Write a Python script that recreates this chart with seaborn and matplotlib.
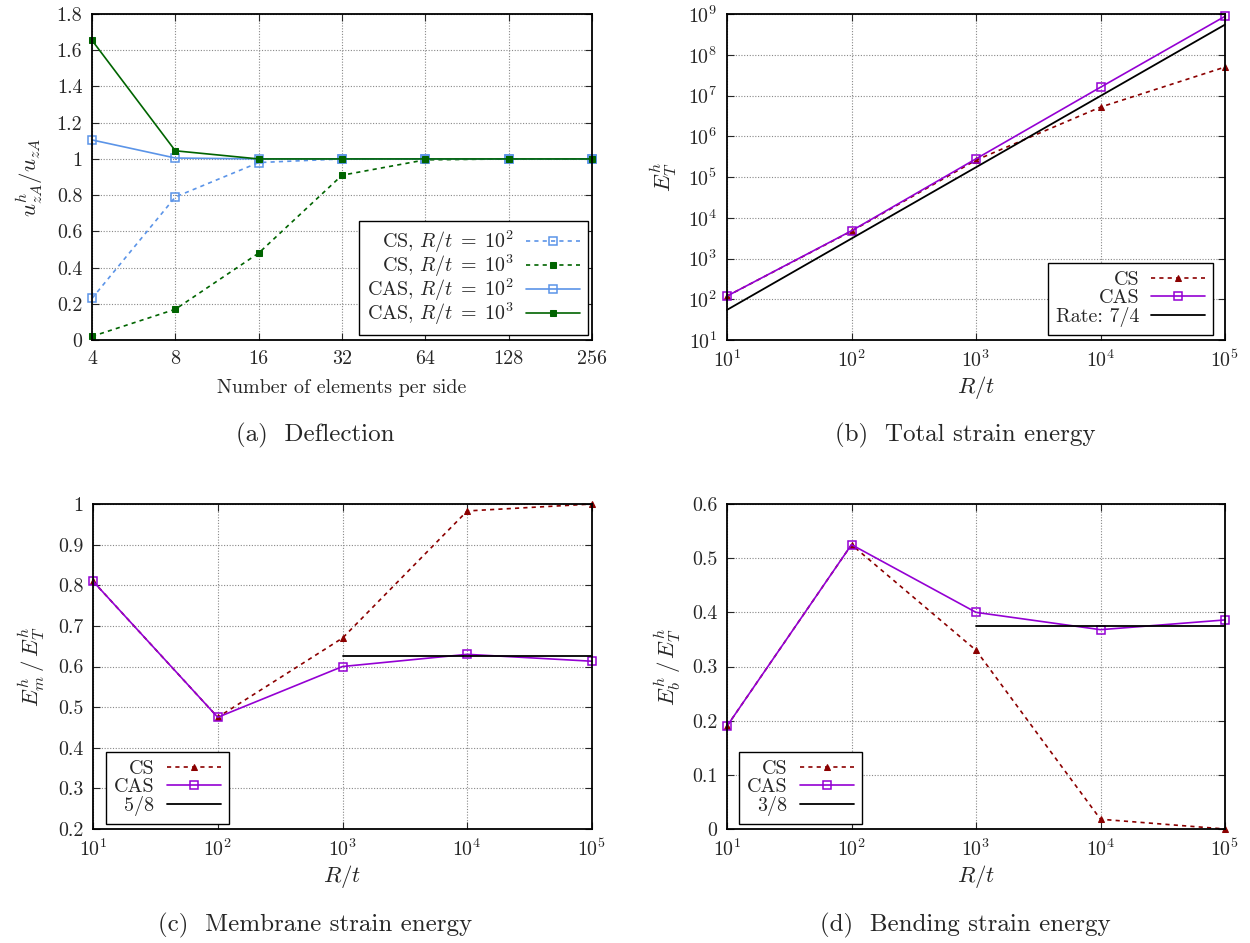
import numpy as np
import pandas as pd
import matplotlib
matplotlib.use("Agg")
import matplotlib.pyplot as plt
import matplotlib.ticker as mticker
import seaborn as sns

# --- data ---
n_elem = [4, 8, 16, 32, 64, 128, 256]
cs_1e2 = [0.23, 0.79, 0.98, 1.0, 1.0, 1.0, 1.0]
cs_1e3 = [0.02, 0.17, 0.48, 0.91, 0.995, 1.0, 1.0]
cas_1e2 = [1.105, 1.005, 1.0, 1.0, 1.0, 1.0, 1.0]
cas_1e3 = [1.655, 1.045, 1.0, 1.0, 1.0, 1.0, 1.0]

rt = [1e1, 1e2, 1e3, 1e4, 1e5]
total_cs = [120, 4700, 2.6e5, 5.2e6, 5.0e7]
total_cas = [120, 4800, 2.8e5, 1.6e7, 8.8e8]
rate_x = [1e1, 1e5]
rate_y = [55, 5.5e8]

memb_cs = [0.81, 0.475, 0.67, 0.983, 1.0]
memb_cas = [0.81, 0.475, 0.60, 0.63, 0.613]
bend_cs = [0.19, 0.525, 0.33, 0.018, 0.0]
bend_cas = [0.19, 0.525, 0.40, 0.368, 0.386]
ref_x = [1e3, 1e5]
memb_ref = [0.625, 0.625]
bend_ref = [0.375, 0.375]

LBLUE = "#5b94e8"
DGREEN = "#006400"
PURPLE = "#9400d3"
DRED = "#8b0000"

sns.set_style("ticks")
plt.rcParams["font.family"] = ["cmr10", "DejaVu Serif"]
plt.rcParams["mathtext.fontset"] = "cm"
plt.rcParams["axes.formatter.use_mathtext"] = True
plt.rcParams["axes.unicode_minus"] = False

FS = 14.4
DOT = (0, (2.5, 2.5))

fig = plt.figure(figsize=(12.5, 9.43), dpi=100)
ax_a = fig.add_axes([0.0736, 0.6394, 0.4000, 0.3457])
ax_b = fig.add_axes([0.5816, 0.6394, 0.3984, 0.3457])
ax_c = fig.add_axes([0.0744, 0.1209, 0.3992, 0.3446])
ax_d = fig.add_axes([0.5816, 0.1209, 0.3984, 0.3446])


def style_axes(ax):
    ax.grid(True, which="major", linestyle=(0, (1, 1.5)), color="#888888", linewidth=0.8)
    ax.tick_params(which="major", direction="in", top=True, right=True,
                   labelsize=FS, length=5, width=0.8)
    ax.tick_params(axis="x", pad=7)
    ax.tick_params(axis="y", pad=7)
    ax.tick_params(which="minor", length=0)
    for s in ax.spines.values():
        s.set_linewidth(1.3)
        s.set_color("black")


def make_legend(ax, loc, anchor, spacing=0.0):
    leg = ax.legend(loc=loc, bbox_to_anchor=anchor, markerfirst=False,
                    fancybox=False, framealpha=1, edgecolor="black",
                    fontsize=FS, handlelength=2.7, labelspacing=spacing,
                    borderpad=0.4, handletextpad=0.6, borderaxespad=0.0)
    leg.get_frame().set_linewidth(1.0)
    return leg


def fmt_plain(v, p):
    return f"{v:.1f}".rstrip("0").rstrip(".")


open_sq = dict(marker="s", markersize=5.8, markerfacecolor="none", markeredgewidth=1.1)

# (a) deflection
sns.lineplot(x=n_elem, y=cs_1e2, ax=ax_a, color=LBLUE, linestyle=DOT,
             markeredgecolor=LBLUE, lw=1.2, label=r"CS, $R/t\;=\;10^2$", **open_sq)
sns.lineplot(x=n_elem, y=cs_1e3, ax=ax_a, color=DGREEN, linestyle=DOT,
             marker="s", markersize=4.2, markerfacecolor=DGREEN,
             markeredgecolor=DGREEN, lw=1.2, label=r"CS, $R/t\;=\;10^3$")
sns.lineplot(x=n_elem, y=cas_1e2, ax=ax_a, color=LBLUE, linestyle="-",
             markeredgecolor=LBLUE, lw=1.2, label=r"CAS, $R/t\;=\;10^2$", **open_sq)
sns.lineplot(x=n_elem, y=cas_1e3, ax=ax_a, color=DGREEN, linestyle="-",
             marker="s", markersize=4.2, markerfacecolor=DGREEN,
             markeredgecolor=DGREEN, lw=1.2, label=r"CAS, $R/t\;=\;10^3$")
ax_a.set_xscale("log", base=2)
ax_a.set_xlim(4, 256)
ax_a.set_xticks(n_elem)
ax_a.xaxis.set_major_formatter(mticker.FixedFormatter([str(n) for n in n_elem]))
ax_a.set_ylim(0, 1.8)
ax_a.set_yticks(np.arange(0, 1.81, 0.2))
ax_a.yaxis.set_major_formatter(mticker.FuncFormatter(fmt_plain))
ax_a.set_xlabel("Number of elements per side", fontsize=FS, labelpad=8)
ax_a.set_ylabel(r"$u^h_{zA}/u_{zA}$", fontsize=FS + 2, labelpad=8)
style_axes(ax_a)
make_legend(ax_a, "lower right", (0.992, 0.015), spacing=-0.12)

# (b) total strain energy
sns.lineplot(x=rt, y=total_cs, ax=ax_b, color=DRED, linestyle=DOT,
             marker="^", markersize=5, markerfacecolor=DRED,
             markeredgecolor=DRED, lw=1.2, label="CS")
sns.lineplot(x=rt, y=total_cas, ax=ax_b, color=PURPLE, linestyle="-",
             markeredgecolor=PURPLE, lw=1.2, label="CAS", **open_sq)
sns.lineplot(x=rate_x, y=rate_y, ax=ax_b, color="black", lw=1.3,
             label="Rate: 7/4")
ax_b.set_xscale("log")
ax_b.set_yscale("log")
ax_b.set_xlim(1e1, 1e5)
ax_b.set_ylim(1e1, 1e9)
ax_b.set_yticks([10.0 ** k for k in range(1, 10)])
ax_b.set_xticks(rt)
ax_b.set_xlabel(r"$R/t$", fontsize=FS + 2, labelpad=2)
ax_b.set_ylabel(r"$E^h_T$", fontsize=FS + 2, labelpad=6)
style_axes(ax_b)
make_legend(ax_b, "lower right", (0.976, 0.015))

# (c) membrane strain energy
sns.lineplot(x=rt, y=memb_cs, ax=ax_c, color=DRED, linestyle=DOT,
             marker="^", markersize=5, markerfacecolor=DRED,
             markeredgecolor=DRED, lw=1.2, label="CS")
sns.lineplot(x=rt, y=memb_cas, ax=ax_c, color=PURPLE, linestyle="-",
             markeredgecolor=PURPLE, lw=1.2, label="CAS", **open_sq)
sns.lineplot(x=ref_x, y=memb_ref, ax=ax_c, color="black", lw=1.3, label="5/8")
ax_c.set_xscale("log")
ax_c.set_xlim(1e1, 1e5)
ax_c.set_xticks(rt)
ax_c.set_ylim(0.2, 1.0)
ax_c.set_yticks(np.arange(0.2, 1.01, 0.1))
ax_c.yaxis.set_major_formatter(mticker.FuncFormatter(fmt_plain))
ax_c.set_xlabel(r"$R/t$", fontsize=FS + 2, labelpad=2)
ax_c.set_ylabel(r"$E^h_m\,/\,E^h_T$", fontsize=FS + 2, labelpad=8)
style_axes(ax_c)
make_legend(ax_c, "lower left", (0.026, 0.015))

# (d) bending strain energy
sns.lineplot(x=rt, y=bend_cs, ax=ax_d, color=DRED, linestyle=DOT,
             marker="^", markersize=5, markerfacecolor=DRED,
             markeredgecolor=DRED, lw=1.2, label="CS")
sns.lineplot(x=rt, y=bend_cas, ax=ax_d, color=PURPLE, linestyle="-",
             markeredgecolor=PURPLE, lw=1.2, label="CAS", **open_sq)
sns.lineplot(x=ref_x, y=bend_ref, ax=ax_d, color="black", lw=1.3, label="3/8")
ax_d.set_xscale("log")
ax_d.set_xlim(1e1, 1e5)
ax_d.set_xticks(rt)
ax_d.set_ylim(0, 0.6)
ax_d.set_yticks(np.arange(0, 0.61, 0.1))
ax_d.yaxis.set_major_formatter(mticker.FuncFormatter(fmt_plain))
ax_d.set_xlabel(r"$R/t$", fontsize=FS + 2, labelpad=2)
ax_d.set_ylabel(r"$E^h_b\,/\,E^h_T$", fontsize=FS + 2, labelpad=6)
style_axes(ax_d)
make_legend(ax_d, "lower left", (0.024, 0.015))

for ax in (ax_a, ax_b, ax_c, ax_d):
    for line in ax.get_lines():
        line.set_clip_on(False)

# sub-figure captions
fig.text(0.252, 0.538, "(a)  Deflection", ha="center", va="center", fontsize=18)
fig.text(0.772, 0.538, "(b)  Total strain energy", ha="center", va="center", fontsize=18)
fig.text(0.252, 0.019, "(c)  Membrane strain energy", ha="center", va="center", fontsize=18)
fig.text(0.772, 0.019, "(d)  Bending strain energy", ha="center", va="center", fontsize=18)

fig.savefig("out.png", dpi=100)
